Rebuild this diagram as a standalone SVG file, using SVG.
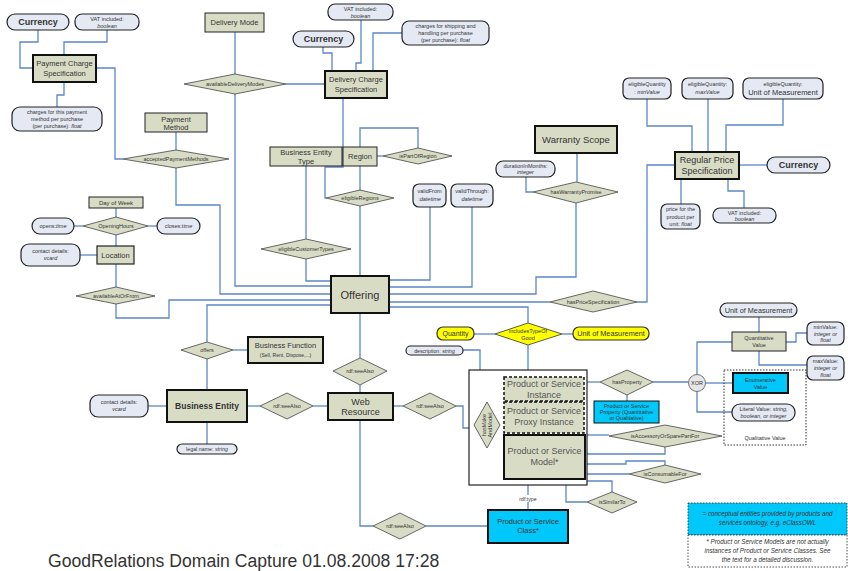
<svg xmlns="http://www.w3.org/2000/svg" width="848" height="571" viewBox="0 0 848 571">
<style>
text{font-family:"Liberation Sans",Arial,sans-serif;fill:#333;text-anchor:middle}
.b{fill:#d9dcc5;stroke:#222;stroke-width:1}
.bt{fill:#d9dcc5;stroke:#111;stroke-width:2}
.p{fill:#e4e9f4;stroke:#222;stroke-width:1.2}
.d{fill:#d9dcc5;stroke:#444;stroke-width:0.8}
.y{fill:#ffff00;stroke:#333;stroke-width:1.2}
.cy{fill:#00c8fa;stroke:#111;stroke-width:1}
.ds{fill:#d9dcc5;stroke:#111;stroke-width:1.5;stroke-dasharray:3 2}
#connectors polyline{fill:none;stroke:#5b87c6;stroke-width:1.3}
.s5{font-size:5.5px}
.s6{font-size:6px}
.s7{font-size:7.5px}
.s9{font-size:9px}
.cur{font-size:9px;font-weight:bold}
.i{font-style:italic}
.g{fill:#555}
</style>
<rect width="848" height="571" fill="#fff"/>
<g id="connectors">
<polyline points="38,30 38,42 20,42 20,68 33,68"/>
<polyline points="107,30 107,42 64,42 64,55"/>
<polyline points="64,82 64,95 57,95 57,107"/>
<polyline points="96,68 115,68 115,159 123,159"/>
<polyline points="176,132 176,150"/>
<polyline points="176,168 176,205 220,205 220,294 331,294"/>
<polyline points="235,32 235,74"/>
<polyline points="235,94 235,286 331,286"/>
<polyline points="286,84 325,84"/>
<polyline points="323,47 323,53 332,53 332,71"/>
<polyline points="361,20 361,63 356,63 356,71"/>
<polyline points="402,33 373,33 373,71"/>
<polyline points="343,98 343,167 325,167 325,198 326,198"/>
<polyline points="360,147 360,128 418,128 418,148"/>
<polyline points="377,156 383,156"/>
<polyline points="360,166 360,190"/>
<polyline points="360,206 360,276"/>
<polyline points="306,166 306,239"/>
<polyline points="306,259 306,281 331,281"/>
<polyline points="430,207 430,280 389,280"/>
<polyline points="472,207 472,287 389,287"/>
<polyline points="577,153 577,182"/>
<polyline points="526,177 526,192 533,192"/>
<polyline points="576,203 576,277 536,277 536,294 389,294"/>
<polyline points="389,302 550,302"/>
<polyline points="637,302 647,302 647,165 675,165"/>
<polyline points="647,99 647,126 692,126 692,152"/>
<polyline points="708,99 708,152"/>
<polyline points="783,99 783,125 726,125 726,152"/>
<polyline points="739,165 767,165"/>
<polyline points="681,179 681,204"/>
<polyline points="728,179 728,191 744,191 744,208"/>
<polyline points="116,208 116,217"/>
<polyline points="74,226 83,226"/>
<polyline points="148,226 157,226"/>
<polyline points="116,235 116,246"/>
<polyline points="80,255 97,255"/>
<polyline points="116,264 116,287"/>
<polyline points="116,304 116,318 169,318 169,300 331,300"/>
<polyline points="331,305 207,305 207,342"/>
<polyline points="233,350 248,350"/>
<polyline points="207,359 207,390"/>
<polyline points="148,406 167,406"/>
<polyline points="207,422 207,444"/>
<polyline points="247,406 260,406"/>
<polyline points="313,406 328,406"/>
<polyline points="360,313 360,358"/>
<polyline points="360,385 360,393"/>
<polyline points="393,406 403,406"/>
<polyline points="456,406 463,406 463,428 469,428"/>
<polyline points="360,420 360,526 373,526"/>
<polyline points="426,526 488,526"/>
<polyline points="528,485 528,510"/>
<polyline points="389,307 528,307 528,323"/>
<polyline points="474,334 495,334"/>
<polyline points="562,334 573,334"/>
<polyline points="528,345 528,370"/>
<polyline points="463,350 480,350 480,370"/>
<polyline points="487,402 487,388 504,388"/>
<polyline points="487,448 487,457 504,457"/>
<polyline points="587,382 600,382"/>
<polyline points="653,382 688.5,382"/>
<polyline points="627,395 627,401"/>
<polyline points="697,374.5 697,342 732,342"/>
<polyline points="705.5,383 733,383"/>
<polyline points="697,391.5 697,412 732,412"/>
<polyline points="759,317 759,332"/>
<polyline points="786,342 796,342 796,333 807,333"/>
<polyline points="759,351 759,365 807,365"/>
<polyline points="587,435 609,435"/>
<polyline points="587,454 665,454 665,447"/>
<polyline points="587,464 626,464 626,461 665,461 665,465"/>
<polyline points="587,474 629,474"/>
<polyline points="587,481 612,481 612,492"/>
<polyline points="566,485 566,502 587,502"/>
</g>
<g id="currency1"><rect class="p" x="7" y="14" width="62" height="16" rx="8"/><text class="cur" x="38" y="25.2">Currency</text></g>
<g id="vat1"><rect class="p" x="75" y="14" width="64" height="16" rx="7"/><text class="s5" x="107" y="21">VAT included:</text><text class="s5 i" x="107" y="27.5">boolean</text></g>
<g id="paymentChargeSpec"><rect class="bt" x="33" y="55" width="63" height="27"/><text class="s7" x="64.5" y="66">Payment Charge</text><text class="s7" x="64.5" y="75.5">Specification</text></g>
<g id="chargesPayment"><rect class="p" x="12" y="107" width="90" height="24" rx="8"/><text class="s5" x="57" y="114">charges for this payment</text><text class="s5" x="57" y="121">method per purchase</text><text class="s5" x="57" y="128">(per purchase): <tspan class="i">float</tspan></text></g>
<g id="deliveryMode"><rect class="b" x="205" y="13" width="59" height="19"/><text class="s7" x="234.5" y="25">Delivery Mode</text></g>
<g id="availableDeliveryModes"><polygon class="d" points="184,84 235,74 286,84 235,94"/><text class="s5" x="235" y="86">availableDeliveryModes</text></g>
<g id="currency2"><rect class="p" x="293" y="31" width="61" height="16" rx="8"/><text class="cur" x="323.5" y="42.2">Currency</text></g>
<g id="vat2"><rect class="p" x="328" y="4" width="65" height="16" rx="7"/><text class="s5" x="360.5" y="11">VAT included:</text><text class="s5 i" x="360.5" y="17.5">boolean</text></g>
<g id="chargesShipping"><rect class="p" x="402" y="21" width="87" height="24" rx="7"/><text class="s5" x="445.5" y="28">charges for shipping and</text><text class="s5" x="445.5" y="35">handling per purchase</text><text class="s5" x="445.5" y="42">(per purchase): <tspan class="i">float</tspan></text></g>
<g id="deliveryChargeSpec"><rect class="bt" x="325" y="71" width="62" height="27"/><text class="s7" x="356" y="82">Delivery Charge</text><text class="s7" x="356" y="91.5">Specification</text></g>
<g id="paymentMethod"><rect class="b" x="145" y="113" width="62" height="19"/><text class="s7" x="176" y="121.5">Payment</text><text class="s7" x="176" y="129.5">Method</text></g>
<g id="acceptedPaymentMethods"><polygon class="d" points="123,159 176,150 229,159 176,168"/><text class="s5" x="176" y="161">acceptedPaymentMethods</text></g>
<g id="businessEntityType"><rect class="b" x="270" y="147" width="72" height="19"/><text class="s7" x="306" y="155">Business Entity</text><text class="s7" x="306" y="163.5">Type</text></g>
<g id="region"><rect class="b" x="343" y="147" width="34" height="19"/><text class="s7" x="360" y="159">Region</text></g>
<g id="isPartOfRegion"><polygon class="d" points="383,156 418,148 452,156 418,164"/><text class="s5" x="418" y="158">isPartOfRegion</text></g>
<g id="eligibleRegions"><polygon class="d" points="326,198 360,190 394,198 360,206"/><text class="s5" x="360" y="200">eligibleRegions</text></g>
<g id="eligibleCustomerTypes"><polygon class="d" points="261,249 306,239 351,249 306,259"/><text class="s5" x="306" y="251">eligibleCustomerTypes</text></g>
<g id="validFrom"><rect class="p" x="413" y="184" width="33" height="23" rx="6"/><text class="s5" x="429.5" y="193">validFrom</text><text class="s5" x="429.5" y="201">:<tspan class="i">datetime</tspan></text></g>
<g id="validThrough"><rect class="p" x="451" y="184" width="42" height="23" rx="6"/><text class="s5" x="472" y="193">validThrough:</text><text class="s5 i" x="472" y="201">datetime</text></g>
<g id="warrantyScope"><rect class="bt" x="535" y="126" width="82" height="27"/><text x="576" y="143" style="font-size:9.5px">Warranty Scope</text></g>
<g id="durationInMonths"><rect class="p" x="496" y="161" width="59" height="16" rx="7"/><text class="s5" x="525.5" y="167.5">durationInMonths:</text><text class="s5 i" x="525.5" y="174">integer</text></g>
<g id="hasWarrantyPromise"><polygon class="d" points="533,192 576,182 618,192 576,203"/><text class="s5" x="576" y="194">hasWarrantyPromise</text></g>
<g id="regularPriceSpec"><rect class="bt" x="675" y="152" width="64" height="27"/><text class="s9" x="707" y="163">Regular Price</text><text class="s9" x="707" y="174">Specification</text></g>
<g id="currency3"><rect class="p" x="767" y="157" width="63" height="16" rx="8"/><text class="cur" x="798.5" y="168.2">Currency</text></g>
<g id="eqMin"><rect class="p" x="623" y="78" width="48" height="21" rx="6"/><text class="s5" x="647" y="86">eligibleQuantity</text><text class="s5" x="647" y="93.5">: <tspan class="i">minValue</tspan></text></g>
<g id="eqMax"><rect class="p" x="682" y="78" width="51" height="21" rx="6"/><text class="s5" x="707.5" y="86">eligibleQuantity:</text><text class="s5 i" x="707.5" y="93.5">maxValue</text></g>
<g id="eqUnit"><rect class="p" x="743" y="78" width="80" height="21" rx="6"/><text class="s5" x="783" y="85.5">eligibleQuantity:</text><text class="s7" x="783" y="95">Unit of Measurement</text></g>
<g id="pricePerUnit"><rect class="p" x="661" y="204" width="39" height="25" rx="6"/><text class="s5" x="680.5" y="211">price for the</text><text class="s5" x="680.5" y="218.5">product per</text><text class="s5" x="680.5" y="226">unit: <tspan class="i">float</tspan></text></g>
<g id="vat3"><rect class="p" x="713" y="208" width="63" height="15" rx="7"/><text class="s5" x="744.5" y="214.5">VAT included:</text><text class="s5 i" x="744.5" y="220.8">boolean</text></g>
<g id="dayOfWeek"><rect class="b" x="89" y="197" width="54" height="11"/><text class="s6" x="116" y="204.6">Day of Week</text></g>
<g id="openingHours"><polygon class="d" points="83,226 116,217 148,226 116,235"/><text class="s5" x="116" y="228">OpeningHours</text></g>
<g id="opens"><rect class="p" x="32" y="218" width="42" height="16" rx="8"/><text class="s5" x="53" y="228">opens:<tspan class="i">time</tspan></text></g>
<g id="closes"><rect class="p" x="157" y="218" width="43" height="16" rx="8"/><text class="s5" x="178.5" y="228">closes:<tspan class="i">time</tspan></text></g>
<g id="location"><rect class="b" x="97" y="246" width="37" height="18" style="stroke-width:1.2"/><text class="s7" x="115.5" y="257.6">Location</text></g>
<g id="contactLocation"><rect class="p" x="21" y="244" width="59" height="22" rx="8"/><text class="s5" x="50.5" y="252.5">contact details:</text><text class="s5 i" x="50.5" y="260">vcard</text></g>
<g id="availableAtOrFrom"><polygon class="d" points="76,296 116,287 155,296 116,304"/><text class="s5" x="116" y="298">availableAtOrFrom</text></g>
<g id="offering"><rect class="bt" x="331" y="276" width="58" height="37"/><text x="360" y="298.5" style="font-size:11px">Offering</text></g>
<g id="hasPriceSpecification"><polygon class="d" points="550,302 593,291 637,302 593,312"/><text class="s5" x="593" y="304">hasPriceSpecification</text></g>
<g id="quantity"><rect class="y" x="437" y="327" width="37" height="13" rx="6"/><text x="455.5" y="336" style="font-size:7px">Quantity</text></g>
<g id="includesTypeOfGood"><polygon class="y" style="stroke-width:0.8" points="495,334 528,323 562,334 528,345"/><text class="s5" x="528" y="332.5">includesTypeOf</text><text class="s5" x="528" y="339.5">Good</text></g>
<g id="unitOfMeasurement1"><rect class="y" x="573" y="327" width="76" height="13" rx="6"/><text x="611" y="336" style="font-size:7.3px">Unit of Measurement</text></g>
<g id="description"><rect class="p" x="406" y="346" width="57" height="9" rx="4.5"/><text x="434.5" y="352.5" style="font-size:5.2px">description: <tspan class="i">string</tspan></text></g>
<g id="productContainer"><rect x="469" y="370" width="118" height="115" fill="#fff" stroke="#222" stroke-width="1.2"/></g>
<g id="productInstance"><rect class="ds" x="504" y="377" width="80" height="24"/><text class="s9 g" x="544" y="386.5">Product or Service</text><text class="s9 g" x="544" y="397.5">Instance</text></g>
<g id="proxyInstance"><rect class="ds" x="504" y="402" width="80" height="31"/><text class="s9 g" x="544" y="414">Product or Service</text><text class="s9 g" x="544" y="425">Proxy Instance</text></g>
<g id="productModel"><rect class="bt" x="504" y="435" width="81" height="44"/><text class="s9 g" x="544.5" y="454">Product or Service</text><text class="s9 g" x="544.5" y="465">Model*</text></g>
<g id="hasMakeAndModel"><polygon class="d" points="487,402 500,425 487,448 474,425"/><text class="s5" transform="translate(487,425) rotate(-90)"><tspan x="0" y="-1">hasMake</tspan><tspan x="0" y="5">AndModel</tspan></text></g>
<g id="hasProperty"><polygon class="d" points="600,382 627,370 653,382 627,395"/><text class="s5" x="627" y="384">hasProperty</text></g>
<g id="productProperty"><rect class="cy" x="594" y="401" width="65" height="22"/><text class="s5" x="626.5" y="407.5">Product or Service</text><text class="s5" x="626.5" y="413.5">Property (Quantitative</text><text class="s5" x="626.5" y="419.5">or Qualitative)</text></g>
<g id="xor"><circle cx="697" cy="383" r="8.5" fill="#e6e6e6" stroke="#555" stroke-width="0.8"/><text class="s5" x="697" y="385">XOR</text></g>
<g id="unitOfMeasurement2"><rect class="p" x="720" y="303" width="77" height="14" rx="7"/><text x="758.5" y="312.5" style="font-size:7.3px">Unit of Measurement</text></g>
<g id="quantitativeValue"><rect class="b" x="732" y="332" width="54" height="19"/><text class="s5" x="759" y="340">Quantitative</text><text class="s5" x="759" y="347">Value</text></g>
<g id="minValue"><rect class="p" x="807" y="322" width="37" height="23" rx="6"/><text class="s5" x="825.5" y="328.5">minValue:</text><text class="s5 i" x="825.5" y="335.5">integer or</text><text class="s5 i" x="825.5" y="342">float</text></g>
<g id="maxValue"><rect class="p" x="807" y="356" width="37" height="24" rx="6"/><text class="s5" x="825.5" y="362.5">maxValue:</text><text class="s5 i" x="825.5" y="369.5">integer or</text><text class="s5 i" x="825.5" y="376.5">float</text></g>
<g id="qualitativeValue"><rect x="724" y="370" width="82" height="75" fill="none" stroke="#333" stroke-width="1" stroke-dasharray="1.5 1.5"/><text class="s5" x="765" y="439.5">Qualitative Value</text></g>
<g id="enumerativeValue"><rect class="cy" x="733" y="373" width="55" height="20" style="stroke-width:2"/><text class="s5" x="760.5" y="381.5">Enumerative</text><text class="s5" x="760.5" y="388.5">Value</text></g>
<g id="literalValue"><rect class="p" x="732" y="404" width="63" height="17" rx="8"/><text class="s5" x="763.5" y="411">Literal Value: <tspan class="i">string,</tspan></text><text class="s5 i" x="763.5" y="418">boolean, or integer</text></g>
<g id="isAccessoryOrSparePartFor"><polygon class="d" points="609,436 665,425 722,436 665,447"/><text class="s5" x="665" y="438">isAccessoryOrSparePartFor</text></g>
<g id="isConsumableFor"><polygon class="d" points="629,474 665,465 701,474 665,483"/><text class="s5" x="665" y="476">isConsumableFor</text></g>
<g id="isSimilarTo"><polygon class="d" points="587,502 612,492 637,502 612,513"/><text class="s5" x="612" y="504">isSimilarTo</text></g>
<g id="rdfType"><rect x="515" y="495" width="26" height="7" fill="#fff"/><text x="528" y="500.5" style="font-size:5.2px">rdf:type</text></g>
<g id="productClass"><rect class="cy" x="488" y="510" width="80" height="33" style="stroke-width:2"/><text class="s7" x="528" y="524">Product or Service</text><text class="s7" x="528" y="533">Class*</text></g>
<g id="seeAlsoBottom"><polygon class="d" points="373,526 400,513 426,526 400,539"/><text class="s5" x="400" y="528">rdf:seeAlso</text></g>
<g id="webResource"><rect class="bt" x="328" y="393" width="65" height="27"/><text class="s9" x="360.5" y="404.5">Web</text><text class="s9" x="360.5" y="415">Resource</text></g>
<g id="seeAlsoTop"><polygon class="d" points="333,371 360,358 387,371 360,385"/><text class="s5" x="360" y="373">rdf:seeAlso</text></g>
<g id="seeAlsoLeft"><polygon class="d" points="260,406 287,393 313,406 287,419"/><text class="s5" x="287" y="408">rdf:seeAlso</text></g>
<g id="seeAlsoRight"><polygon class="d" points="403,406 430,393 456,406 430,419"/><text class="s5" x="430" y="408">rdf:seeAlso</text></g>
<g id="businessEntity"><rect class="bt" x="167" y="390" width="80" height="32"/><text x="207" y="409" style="font-size:8.5px;font-weight:bold">Business Entity</text></g>
<g id="contactBE"><rect class="p" x="90" y="395" width="58" height="22" rx="8"/><text class="s5" x="119" y="403.5">contact details:</text><text class="s5 i" x="119" y="411">vcard</text></g>
<g id="legalName"><rect class="p" x="177" y="444" width="60" height="10" rx="5"/><text x="207" y="451" style="font-size:5.3px">legal name: <tspan class="i">string</tspan></text></g>
<g id="offers"><polygon class="d" points="181,350 207,342 233,350 207,359"/><text class="s5" x="207" y="352">offers</text></g>
<g id="businessFunction"><rect class="bt" x="248" y="337" width="75" height="26"/><text class="s7" x="285.5" y="348">Business Function</text><text x="285.5" y="357" style="font-size:5px">(Sell, Rent, Dispose,...)</text></g>
<g id="legend1"><rect x="688" y="503" width="159" height="32" fill="#00c8fa" stroke="#222" stroke-width="0.8" stroke-dasharray="1.5 1.5"/><text class="i" x="767.5" y="516" style="font-size:6.3px">= conceptual entities provided by products and</text><text class="i" x="767.5" y="525" style="font-size:6.3px">services ontology, e.g. eClassOWL</text></g>
<g id="legend2"><rect x="688" y="535" width="159" height="32" fill="#fff" stroke="#222" stroke-width="0.8" stroke-dasharray="1.5 1.5"/><text class="i" x="767.5" y="544" style="font-size:6.3px">* Product or Service Models are not actually</text><text class="i" x="767.5" y="553" style="font-size:6.3px">instances of Product or Service Classes. See</text><text class="i" x="767.5" y="561.5" style="font-size:6.3px">the text for a detailed discussion.</text></g>
<g id="footer"><text x="48" y="567" style="font-size:17.6px;text-anchor:start">GoodRelations Domain Capture 01.08.2008 17:28</text></g>
</svg>
